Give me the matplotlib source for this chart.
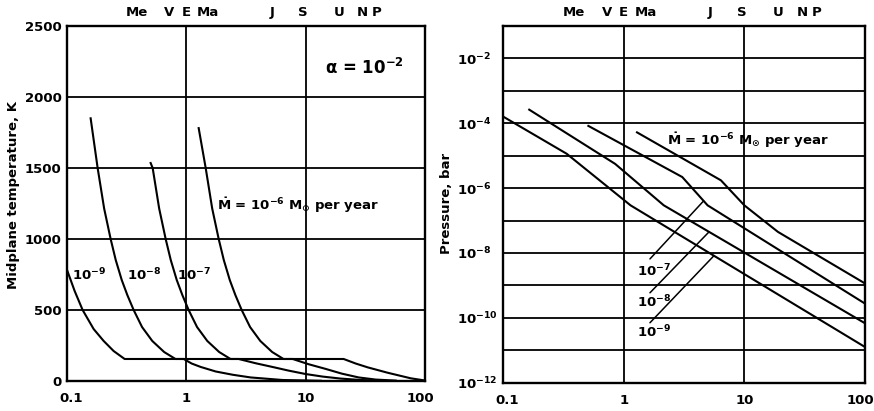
import numpy as np
import matplotlib
matplotlib.use("Agg")
import matplotlib.pyplot as plt
import matplotlib.transforms as mtransforms

plt.rcParams["font.family"] = ["DejaVu Sans"]
plt.rcParams["font.weight"] = "bold"
plt.rcParams["mathtext.default"] = "bf"

# ---- planets (semi-major axis, AU) shown along the top ----
planet_names = ["Me", "V", "E", "Ma", "J", "S", "U", "N", "P"]
planet_au = [0.387, 0.723, 1.0, 1.524, 5.2, 9.54, 19.2, 30.1, 39.5]

# ---- midplane temperature (K) vs heliocentric distance (AU) ----
r_T_m9 = [0.1, 0.1158, 0.1351, 0.1671, 0.2027, 0.2458, 0.3039,
          20.8, 26.25, 33.1, 48.7, 75.9, 100]
T_m9 = [782, 634, 500, 366, 282, 211, 155,
        155, 123, 96, 58, 19, 3.5]

r_T_m8 = [0.1577, 0.1805, 0.2046, 0.232, 0.2559, 0.2874, 0.3202, 0.3616,
          0.4253, 0.5179, 0.6516, 0.8102,
          0.95, 1.108, 1.318, 1.761, 2.444, 3.459, 6.42, 13.4]
T_m8 = [1850, 1500, 1215, 1000, 852, 711, 605, 500,
        380, 282, 204, 155,
        155, 123, 99, 67, 44, 25, 7, 1.4]

r_T_m7 = [0.502, 0.5219, 0.5916, 0.6708, 0.7399, 0.8308, 0.9258, 1.045,
          1.229, 1.497, 1.884, 2.343,
          2.744, 3.809, 5.26, 7.203, 10.0, 13.89, 19.65, 28.91, 46.84]
T_m7 = [1535, 1500, 1215, 1000, 852, 711, 605, 500,
        380, 282, 204, 155,
        155, 125, 99, 73, 49, 31, 17, 7, 2.1]

r_T_m6 = [1.268, 1.452, 1.646, 1.866, 2.059, 2.311, 2.575, 2.908,
          3.42, 4.164, 5.239, 6.515,
          7.78, 10.59, 14.72, 20.04, 27.8, 38.63, 56.8]
T_m6 = [1781, 1500, 1215, 1000, 852, 711, 605, 500,
        380, 282, 204, 155,
        155, 118, 85, 52, 25, 10, 2.8]

# ---- midplane pressure (bar) vs distance (AU) ----
r_P_m9 = [0.1, 0.337, 1.14, 100]
P_m9 = [1.62e-4, 1.15e-5, 2.95e-7, 1.26e-11]

r_P_m8 = [0.165, 0.85, 2.15, 100]
P_m8 = [2.63e-4, 5.6e-6, 2.95e-7, 6.8e-11]

r_P_m7 = [0.51, 3.06, 4.96, 100]
P_m7 = [8.3e-5, 2.2e-6, 2.95e-7, 2.75e-10]

r_P_m6 = [1.29, 6.4, 10, 19, 100]
P_m6 = [5.25e-5, 1.74e-6, 2.95e-7, 4.47e-8, 1.15e-9]

x_ticks = [0.1, 1, 10, 100]
x_ticklabels = ["0.1", "1", "10", "100"]
T_ticks = [0, 500, 1000, 1500, 2000, 2500]
P_exponents = list(range(-12, 0))

LW = 1.5
FS = 9.5

fig = plt.figure(figsize=(8.74, 4.11), dpi=100)
axT = fig.add_axes([0.0767, 0.073, 0.4096, 0.8637])
axP = fig.add_axes([0.5755, 0.0689, 0.4142, 0.8678])


def shift(label, px):
    label.set_transform(label.get_transform()
                        + mtransforms.ScaledTranslation(px / 100, 0, fig.dpi_scale_trans))


for ax in (axT, axP):
    ax.set_xscale("log")
    ax.set_xlim(0.1, 100)
    ax.set_xticks(x_ticks)
    ax.set_xticklabels(x_ticklabels)
    ax.xaxis.set_minor_locator(matplotlib.ticker.NullLocator())
    ax.tick_params(length=0, labelsize=FS)
    ax.tick_params(axis="x", pad=8)
    for s in ax.spines.values():
        s.set_linewidth(1.7)
    for xv in x_ticks[1:-1]:
        ax.axvline(xv, color="k", lw=1.3, zorder=1)
    labs = ax.get_xticklabels()
    shift(labs[0], 4)
    shift(labs[-1], -5)
    trans = mtransforms.blended_transform_factory(ax.transData, ax.transAxes)
    for name, au in zip(planet_names, planet_au):
        ax.text(au, 1.037, name, transform=trans, ha="center", va="center",
                fontsize=FS)

# temperature panel
axT.set_ylim(0, 2500)
axT.set_yticks(T_ticks)
axT.tick_params(axis="y", pad=4)
for yv in T_ticks[1:-1]:
    axT.axhline(yv, color="k", lw=1.3, zorder=1)
for r, T in ((r_T_m9, T_m9), (r_T_m8, T_m8), (r_T_m7, T_m7), (r_T_m6, T_m6)):
    axT.plot(r, T, color="k", lw=LW, zorder=3, solid_joinstyle="round")

fig.text(14 / 874, 1 - 195 / 411, "Midplane temperature, K", rotation=90,
         ha="center", va="center", fontsize=FS)
axT.text(0.72, 0.882, r"$\alpha$ = 10$^{-2}$", transform=axT.transAxes,
         ha="left", va="center", fontsize=12)
axT.text(0.418, 0.496, r"$\dot{\mathbf{M}}$ = 10$^{-6}$ M$_{\odot}$ per year",
         transform=axT.transAxes, ha="left", va="center", fontsize=FS)
for xa, lab in ((0.014, "-9"), (0.168, "-8"), (0.307, "-7")):
    axT.text(xa, 0.299, "10$^{%s}$" % lab, transform=axT.transAxes,
             ha="left", va="center", fontsize=FS)

# pressure panel
axP.set_yscale("log")
axP.set_ylim(1e-12, 1e-1)
P_ticks = [10.0 ** e for e in P_exponents]
axP.set_yticks(P_ticks)
axP.set_yticklabels(["10$^{%d}$" % e if e % 2 == 0 else "" for e in P_exponents])
axP.yaxis.set_minor_locator(matplotlib.ticker.NullLocator())
axP.tick_params(axis="y", pad=33)
for lab in axP.get_yticklabels():
    lab.set_horizontalalignment("left")
for yv in P_ticks[1:]:
    axP.axhline(yv, color="k", lw=1.3, zorder=1)
series_P = [(r_P_m9, P_m9), (r_P_m8, P_m8), (r_P_m7, P_m7), (r_P_m6, P_m6)]
for r, P in series_P:
    axP.plot(r, P, color="k", lw=LW, zorder=3, solid_joinstyle="round")

fig.text(446 / 874, 1 - 203 / 411, "Pressure, bar", rotation=90,
         ha="center", va="center", fontsize=FS)
axP.text(0.453, 0.678, r"$\dot{\mathbf{M}}$ = 10$^{-6}$ M$_{\odot}$ per year",
         transform=axP.transAxes, ha="left", va="center", fontsize=FS)

# labelled leaders pointing at the 10^-7, 10^-8, 10^-9 curves
leader_r = [4.6, 5.1, 5.6]
leader_text = ["-7", "-8", "-9"]
leader_start_y = [0.347, 0.252, 0.168]
label_y = [0.313, 0.226, 0.142]
for (r, P), rr, lab, ys, ly in zip([series_P[2], series_P[1], series_P[0]],
                                   leader_r, leader_text, leader_start_y, label_y):
    p_end = 10 ** np.interp(np.log10(rr), np.log10(r), np.log10(P))
    axP.annotate("", xy=(rr, p_end), xycoords="data",
                 xytext=(0.406, ys), textcoords="axes fraction",
                 arrowprops=dict(arrowstyle="-", lw=1.1, color="k",
                                 shrinkA=0, shrinkB=0))
    axP.text(0.37, ly, "10$^{%s}$" % lab, transform=axP.transAxes,
             ha="left", va="center", fontsize=FS)

fig.savefig("out.png", dpi=100, facecolor="white")
